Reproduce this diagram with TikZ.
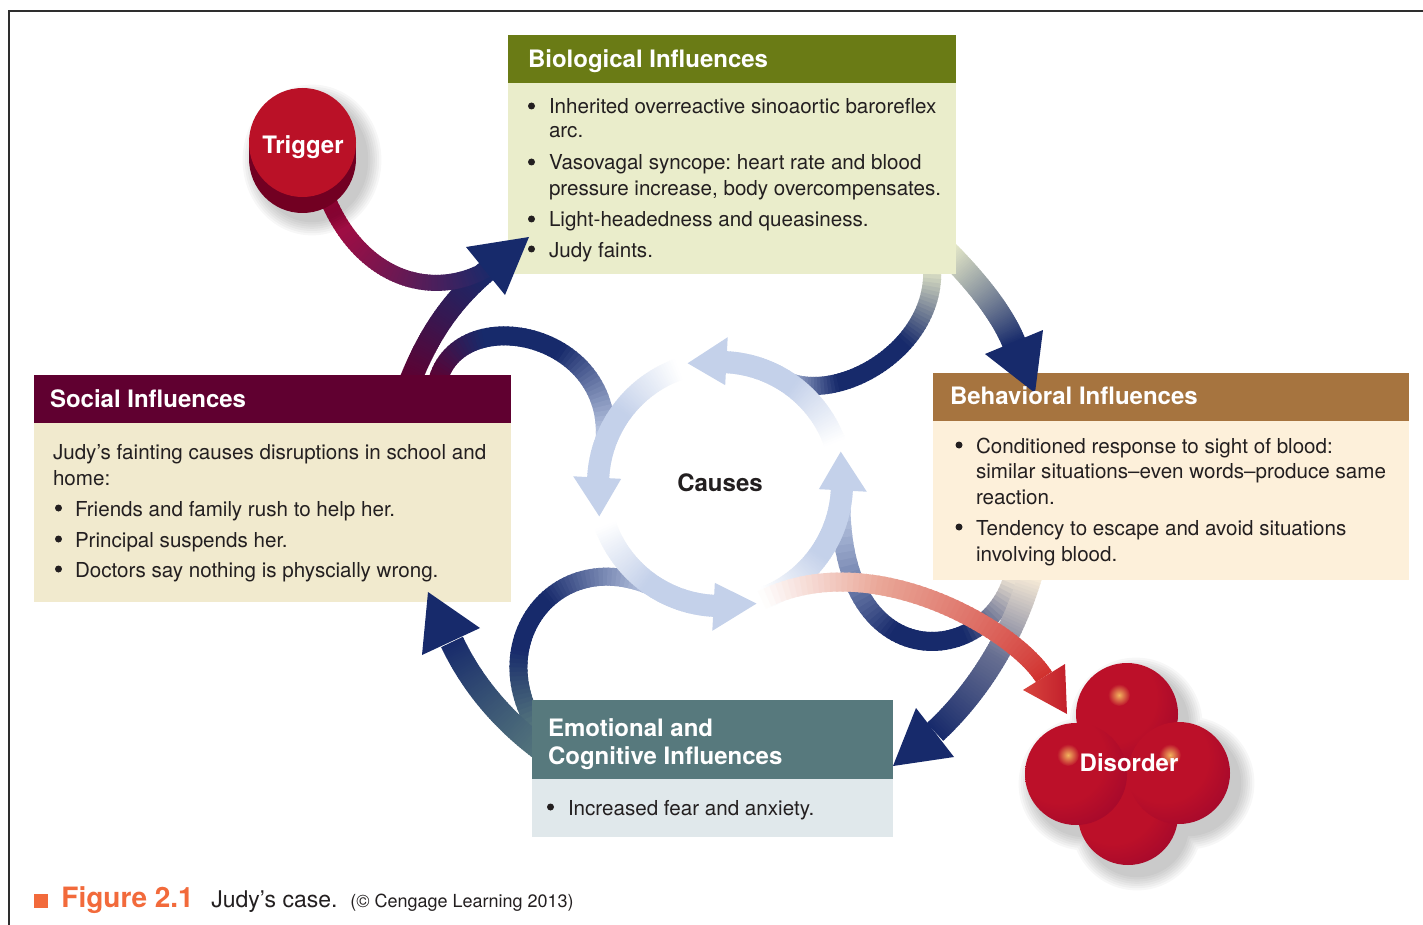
\documentclass[tikz,border=0pt]{standalone}
\usepackage{fontspec}
\setmainfont{TeX Gyre Heros}
\usetikzlibrary{calc}
\frenchspacing

\definecolor{navy}{HTML}{172A6B}
\definecolor{lblue}{HTML}{C4D1EA}
\definecolor{bioH}{HTML}{6A7B15}
\definecolor{bioB}{HTML}{EAEDCB}
\definecolor{socH}{HTML}{600030}
\definecolor{socB}{HTML}{F1EACE}
\definecolor{behH}{HTML}{A6743F}
\definecolor{behB}{HTML}{FDF0DA}
\definecolor{emoH}{HTML}{57797D}
\definecolor{emoB}{HTML}{E0E8EB}
\definecolor{txt}{HTML}{231F20}
\definecolor{trigR}{HTML}{BA1127}
\definecolor{trigD}{HTML}{720022}
\definecolor{crim}{HTML}{B3093E}
\definecolor{sphA}{HTML}{BC1029}
\definecolor{sphB}{HTML}{8A002F}
\definecolor{hlc}{HTML}{F2B45E}
\definecolor{redA}{HTML}{E9A596}
\definecolor{redB}{HTML}{D1302E}
\definecolor{redC}{HTML}{D8463F}
\definecolor{redD}{HTML}{C21F2B}
\definecolor{figO}{HTML}{F26A3B}
\definecolor{framec}{HTML}{2E2E2E}

\pgfdeclareradialshading{sph}{\pgfpoint{-10bp}{10bp}}{color(0bp)=(sphA); color(22bp)=(sphA); color(52bp)=(sphB); color(100bp)=(sphB)}

\pgfkeys{/grad/.cd,
  c1/.initial=white, c2/.initial=white, c3/.initial=white,
  m1/.initial=0.5, m2/.initial=0.5, w/.initial=10pt, n/.initial=60}

\newcommand\gsetcol[1]{%
  \pgfmathsetmacro\gfa{100*min(1,(#1)/\pgfkeysvalueof{/grad/m1})}%
  \pgfmathsetmacro\gfb{100*max(0,((#1)-\pgfkeysvalueof{/grad/m2})/(1.0001-\pgfkeysvalueof{/grad/m2}))}%
  \ifdim\gfb pt>0pt\relax
    \colorlet{gcur}{gcC!\gfb!gcB}%
  \else
    \colorlet{gcur}{gcB!\gfa!gcA}%
  \fi}

\newcommand\gprep[1]{%
  \pgfkeys{/grad/.cd,#1}%
  \pgfkeysgetvalue{/grad/c1}\gtmpa\colorlet{gcA}{\gtmpa}%
  \pgfkeysgetvalue{/grad/c2}\gtmpb\colorlet{gcB}{\gtmpb}%
  \pgfkeysgetvalue{/grad/c3}\gtmpc\colorlet{gcC}{\gtmpc}%
  \pgfmathtruncatemacro\gN{\pgfkeysvalueof{/grad/n}}}

% gradient along one Bezier segment
\newcommand\gbez[2]{%
  \begingroup
  \gprep{#1}%
  \foreach \gi in {1,...,\gN}{%
    \pgfmathsetmacro\gta{(\gi-1)/\gN}%
    \pgfmathsetmacro\gtb{min(1,(\gi+0.4)/\gN)}%
    \pgfmathsetmacro\gtm{(\gi-0.5)/\gN}%
    \gsetcol{\gtm}%
    \path #2 coordinate[pos=\gta] (gpa) coordinate[pos=\gtb] (gpb);%
    \draw[line width=\pgfkeysvalueof{/grad/w}, draw=gcur] (gpa) -- (gpb);%
  }%
  \endgroup}

% gradient along an arc of the causes ring
\newcommand\garc[3]{%
  \begingroup
  \gprep{#1}%
  \foreach \gi in {1,...,\gN}{%
    \pgfmathsetmacro\gaa{#2+(#3-#2)*(\gi-1)/\gN}%
    \pgfmathsetmacro\gab{#2+(#3-#2)*min(1,(\gi+0.4)/\gN)}%
    \pgfmathsetmacro\gtm{(\gi-0.5)/\gN}%
    \gsetcol{\gtm}%
    \draw[line width=\pgfkeysvalueof{/grad/w}, draw=gcur]
      ($(cc)+({122*cos(\gaa)},{-122*sin(\gaa)})$) -- ($(cc)+({122*cos(\gab)},{-122*sin(\gab)})$);%
  }%
  \endgroup}

\newcommand\cychead[2]{%
  \fill[lblue] ($(cc)+({147*cos(#1)},{-147*sin(#1)})$) -- ($(cc)+({125*cos(#2)},{-125*sin(#2)})$)
     -- ($(cc)+({99*cos(#1)},{-99*sin(#1)})$) -- cycle;}

\begin{document}
\begin{tikzpicture}[x=0.5pt,y=-0.5pt,
  txtbody/.style={anchor=base west, inner sep=0pt, outer sep=0pt, font=\fontsize{10.3}{12.5}\selectfont, text=txt},
  txthead/.style={anchor=base west, inner sep=0pt, outer sep=0pt, font=\bfseries\fontsize{12}{14}\selectfont, text=white},
  boxnode/.style={anchor=north west, inner sep=0pt, outer sep=0pt, draw=none},
  bdot/.style={circle, fill=txt, draw=none, inner sep=0pt, minimum size=3.5pt},
  navyhead/.style={fill=navy},
]
\useasboundingbox (0,0) rectangle (1423,925);
\fill[white] (0,0) rectangle (1423,925);
\draw[framec, line width=1pt] (9,925) -- (9,11) -- (1423,11);

\coordinate (cc) at (720,484);

% ---------- connectors (start hidden under boxes) ----------
% Social -> Biological shaft
\gbez{c1=socH, c2=socH!45!navy, c3=navy, w=11pt}{(409,384) .. controls (428,335) and (452,300) .. (488,270)}
% Trigger curve
\gbez{c1=crim, c2=crim!50!navy, c3=navy, w=8pt}{(328,200) .. controls (365,285) and (440,300) .. (492,266)}
% Social -> Causes
\gbez{c1=socH, c2=navy, c3=lblue, m1=0.3, m2=0.62, w=9.5pt}{(437,384) .. controls (455,300) and (615,330) .. (605,442)}
% Biological -> Causes
\gbez{c1=bioB, c2=navy, c3=lblue, m1=0.35, m2=0.7, w=9pt}{(932,266) .. controls (938,350) and (833,408) .. (781,378)}
% Biological -> Behavioral shaft
\gbez{c1=bioB, c2=navy!50!bioB, c3=navy, w=12pt}{(945,250) .. controls (975,280) and (1002,313) .. (1014,343)}
% Behavioral -> Causes
\gbez{c1=behB, c2=navy, c3=lblue, m1=0.3, m2=0.6, w=9.5pt}{(1014,574) .. controls (990,670) and (836,680) .. (841,495)}
% Behavioral -> Emotional shaft
\gbez{c1=behB, c2=navy!65!behB, c3=navy, m1=0.45, m2=0.45, w=12pt}{(1031,573) .. controls (1012,640) and (975,695) .. (935,732)}
% Emotional -> Causes
\gbez{c1=emoH, c2=navy, c3=lblue, m1=0.3, m2=0.55, w=9pt}{(538,730) .. controls (480,640) and (560,540) .. (659,590)}
% Emotional -> Social shaft
\gbez{c1=emoH, c2=navy!50!emoH, c3=navy, w=12pt}{(548,754) .. controls (500,720) and (470,680) .. (452,642)}

% ---------- causes ring ----------
\garc{c1=white, c2=lblue, c3=lblue, m1=0.5, m2=0.99, w=11pt}{20}{87.5}
\garc{c1=white, c2=lblue, c3=lblue, m1=0.5, m2=0.99, w=11pt}{110}{177.5}
\garc{c1=white, c2=lblue, c3=lblue, m1=0.5, m2=0.99, w=11pt}{200}{267.5}
\garc{c1=white, c2=lblue, c3=lblue, m1=0.5, m2=0.99, w=11pt}{292}{357.5}

% Causes -> Disorder
\gbez{c1=white, c2=redA, c3=redB, m1=0.35, m2=0.35, w=9.5pt}{(762,600) .. controls (870,545) and (1014,629) .. (1044,677)}

\cychead{87}{105}
\cychead{177}{195}
\cychead{267}{287}
\cychead{357}{375}

% ---------- boxes ----------
\node[boxnode, fill=bioH, minimum width=224pt, minimum height=24pt] (bioHead) at (508,35) {};
\node[boxnode, fill=bioB, minimum width=224pt, minimum height=95.5pt] (bioBody) at (508,83) {};
\node[boxnode, fill=socH, minimum width=238.5pt, minimum height=24pt] (socHead) at (34,375) {};
\node[boxnode, fill=socB, minimum width=238.5pt, minimum height=89.5pt] (socBody) at (34,423) {};
\node[boxnode, fill=behH, minimum width=238pt, minimum height=24pt] (behHead) at (933,373) {};
\node[boxnode, fill=behB, minimum width=238pt, minimum height=79.5pt] (behBody) at (933,421) {};
\node[boxnode, fill=emoH, minimum width=180.5pt, minimum height=39.5pt] (emoHead) at (532,700) {};
\node[boxnode, fill=emoB, minimum width=180.5pt, minimum height=29pt] (emoBody) at (532,779) {};

% ---------- arrowheads ----------
\coordinate (sbT) at (529,237); \coordinate (sbL) at (466,247); \coordinate (sbR) at (505,295);
\coordinate (bbT) at (1035,393); \coordinate (bbL) at (985,354); \coordinate (bbR) at (1043,330);
\coordinate (beT) at (893,766); \coordinate (beL) at (916,708); \coordinate (beR) at (954,757);
\coordinate (esT) at (428,592); \coordinate (esL) at (422,655); \coordinate (esR) at (480,628);
\coordinate (rdT) at (1067,714); \coordinate (rdL) at (1023,690); \coordinate (rdR) at (1065,664);
\fill[navyhead] (sbT) -- (sbL) -- (sbR) -- cycle;
\fill[navyhead] (bbT) -- (bbL) -- (bbR) -- cycle;
\fill[navyhead] (beT) -- (beL) -- (beR) -- cycle;
\fill[navyhead] (esT) -- (esL) -- (esR) -- cycle;
\shade[left color=redC, right color=redD] (rdT) -- (rdL) -- (rdR) -- cycle;

% ---------- Trigger ----------
\foreach \k in {1,...,7}{
  \fill[black, opacity=0.03] (312,160) ellipse [x radius={27pt+\k*1.1pt}, y radius={30pt+\k*1.1pt}];
}
\fill[trigD] (302.5,158.5) ellipse [x radius=26.75pt, y radius=27.25pt];
\fill[trigD] (249,142.5) rectangle (356,158.5);
\fill[trigR] (302.5,142.5) ellipse [x radius=26.75pt, y radius=27.25pt];
\node[anchor=base, inner sep=0pt, font=\bfseries\fontsize{12}{14}\selectfont, text=white] (trigger) at (303,154) {Trigger};

% ---------- Disorder ----------
\foreach \k in {1,...,7}{
  \fill[black, opacity=0.03] (1136,724) circle[radius={25.5pt+\k*1.1pt}] (1085,784) circle[radius={25.5pt+\k*1.1pt}]
     (1188,783) circle[radius={25.5pt+\k*1.1pt}] (1137,825) circle[radius={25pt+\k*1.1pt}];
}
\shade[shading=sph] (1128,815) circle[radius=25pt];
\shade[shading=sph] (1127,714) circle[radius=25.5pt];
\shade[shading=sph] (1076,774) circle[radius=25.5pt];
\shade[shading=sph] (1179,773) circle[radius=25.5pt];
\shade[inner color=hlc, outer color=sphA] (1119,695) circle[radius=5.5pt];
\shade[inner color=hlc, outer color=sphA] (1068,755) circle[radius=5.5pt];
\shade[inner color=hlc, outer color=sphA] (1170,755) circle[radius=5.5pt];
\node[anchor=base, inner sep=0pt, font=\bfseries\fontsize{12}{14}\selectfont, text=white] (disorder) at (1129,771) {Disorder};

% ---------- Causes ----------
\node[anchor=base, inner sep=0pt, font=\bfseries\fontsize{12}{14}\selectfont, text=txt] (causes) at (720,491) {Causes};

% ---------- texts ----------
\node[txthead] (bioT) at (528,68) {Biological Influences};
\node[bdot] (bio1b) at (531.5,106) {};
\node[txtbody] (bio1) at (549,114) {Inherited overreactive sinoaortic baroreflex};
\node[txtbody] (bio2) at (549,138) {arc.};
\node[bdot] (bio3b) at (531.5,162) {};
\node[txtbody] (bio3) at (549,170) {Vasovagal syncope: heart rate and blood};
\node[txtbody] (bio4) at (549,196) {pressure increase, body overcompensates.};
\node[bdot] (bio5b) at (531.5,219) {};
\node[txtbody] (bio5) at (549,227) {Light-headedness and queasiness.};
\node[bdot] (bio6b) at (531.5,249) {};
\node[txtbody] (bio6) at (549,257) {Judy faints.};

\node[txthead] (socT) at (50,407) {Social Influences};
\node[txtbody] (soc1) at (53,459) {Judy’s fainting causes disruptions in school and};
\node[txtbody] (soc2) at (53,485) {home:};
\node[bdot] (soc3b) at (58.5,508) {};
\node[txtbody] (soc3) at (75,516) {Friends and family rush to help her.};
\node[bdot] (soc4b) at (58.5,539) {};
\node[txtbody] (soc4) at (75,547) {Principal suspends her.};
\node[bdot] (soc5b) at (58.5,569) {};
\node[txtbody] (soc5) at (75,577) {Doctors say nothing is physcially wrong.};

\node[txthead] (behT) at (950,404) {Behavioral Influences};
\node[bdot] (beh1b) at (959,445) {};
\node[txtbody] (beh1) at (976,453) {Conditioned response to sight of blood:};
\node[txtbody] (beh2) at (976,478) {similar situations–even words–produce same};
\node[txtbody] (beh3) at (976,504) {reaction.};
\node[bdot] (beh4b) at (959,527) {};
\node[txtbody] (beh4) at (976,535) {Tendency to escape and avoid situations};
\node[txtbody] (beh5) at (976,561) {involving blood.};

\node[txthead] (emoT1) at (548,736) {Emotional and};
\node[txthead] (emoT2) at (548,764) {Cognitive Influences};
\node[bdot] (emo1b) at (550.5,807) {};
\node[txtbody] (emo1) at (568,815) {Increased fear and anxiety.};

% ---------- caption ----------
\fill[figO] (34,894) rectangle (48,908);
\node[anchor=base west, inner sep=0pt, font=\bfseries\fontsize{14}{16}\selectfont, text=figO] (figno) at (61,907) {Figure 2.1};
\node[anchor=base west, inner sep=0pt, font=\fontsize{11.5}{14}\selectfont, text=txt] (figcap) at (211,907) {Judy’s case.};
\node[anchor=base west, inner sep=0pt, font=\fontsize{9}{11}\selectfont, text=txt] (figcr) at (350,907) {(© Cengage Learning 2013)};
\end{tikzpicture}
\end{document}
